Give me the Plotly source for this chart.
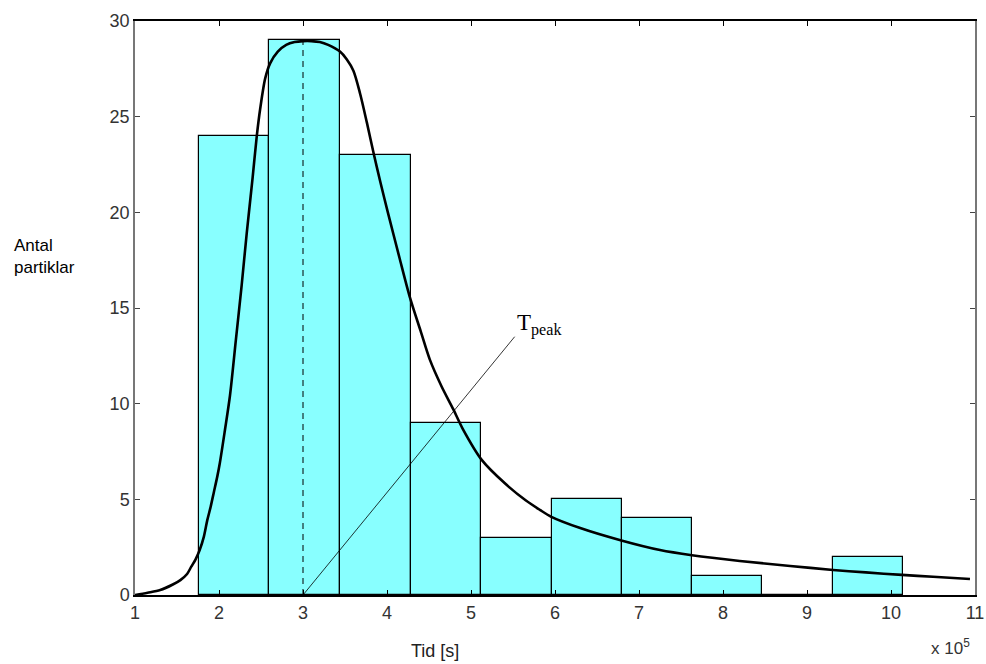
import plotly.graph_objects as go

# Histogram bins (time, x 10^5 s) and counts
bin_edges = [1.76, 2.60, 3.44, 4.28, 5.12, 5.96, 6.80, 7.63, 8.47, 9.31, 10.14]
counts = [24, 29, 23, 9, 3, 5, 4, 1, 0, 2]

curve_x = [1.0, 1.15, 1.3, 1.45, 1.54, 1.62, 1.67, 1.72, 1.77, 1.82, 1.86, 1.9, 1.94, 1.98, 2.01, 2.07,
           2.13, 2.2, 2.27, 2.33, 2.4, 2.45, 2.49, 2.55, 2.61, 2.7, 2.8, 2.9, 3.0, 3.1, 3.2, 3.3,
           3.44, 3.52, 3.6, 3.68, 3.76, 3.84, 3.92, 4.01, 4.15, 4.27, 4.4, 4.51, 4.65, 4.79,
           4.9, 5.13, 5.4, 5.65, 5.82, 5.95, 6.3, 6.79, 7.25, 7.63, 8.2, 8.8, 9.31, 9.7,
           10.13, 10.5, 10.94]
curve_y = [0.0, 0.12, 0.26, 0.55, 0.78, 1.1, 1.48, 1.85, 2.35, 3.05, 3.9, 4.6, 5.4, 6.2, 6.9, 8.6,
           10.4, 13.3, 16.2, 18.9, 21.8, 24.0, 25.4, 27.0, 27.8, 28.4, 28.75, 28.9, 28.95, 28.95, 28.9, 28.75,
           28.4, 28.0, 27.4, 26.2, 24.7, 23.1, 21.6, 20.0, 17.6, 15.6, 13.8, 12.3, 10.9, 9.7,
           8.7, 7.05, 5.85, 4.95, 4.45, 4.1, 3.5, 2.85, 2.35, 2.08, 1.78, 1.52, 1.31, 1.18,
           1.05, 0.95, 0.84]

peak_x = 3.0
peak_y = 28.95
label_end = [5.52, 13.5]
x_ticks = [1, 2, 3, 4, 5, 6, 7, 8, 9, 10, 11]
y_ticks = [0, 5, 10, 15, 20, 25, 30]

centers = [(a + b) / 2 for a, b in zip(bin_edges[:-1], bin_edges[1:])]
widths = [b - a for a, b in zip(bin_edges[:-1], bin_edges[1:])]

fig = go.Figure()
fig.add_trace(go.Bar(x=centers, y=counts, width=widths,
                     marker=dict(color="#88FFFF", line=dict(color="black", width=1.2)),
                     showlegend=False))
# dashed peak line
fig.add_trace(go.Scatter(x=[peak_x, peak_x], y=[0, peak_y], mode="lines",
                         line=dict(color="black", width=1, dash="6px,5px"), showlegend=False))
# Tpeak pointer
fig.add_trace(go.Scatter(x=[peak_x, label_end[0]], y=[0, label_end[1]], mode="lines",
                         line=dict(color="black", width=0.8), showlegend=False))
# fitted curve
fig.add_trace(go.Scatter(x=curve_x, y=curve_y, mode="lines",
                         line=dict(color="black", width=2.6, shape="spline", smoothing=0.8),
                         showlegend=False))

fig.add_annotation(x=label_end[0] + 0.0, y=label_end[1] - 0.2, xref="x", yref="y",
                   text="T<sub>peak</sub>", showarrow=False, xanchor="left", yanchor="bottom",
                   font=dict(family="Liberation Serif", size=23, color="black"))
fig.add_annotation(x=-0.147, y=0.59, xref="paper", yref="paper",
                   text="Antal<br>partiklar", showarrow=False, xanchor="left", yanchor="middle",
                   align="left", font=dict(family="Liberation Sans", size=17, color="black"))
fig.add_annotation(x=0.357, y=-0.097, xref="paper", yref="paper",
                   text="Tid [s]", showarrow=False, xanchor="center", yanchor="middle",
                   font=dict(family="Liberation Sans", size=18, color="#222"))
fig.add_annotation(x=0.997, y=-0.113, xref="paper", yref="paper",
                   text="x 10<sup>5</sup>", showarrow=False, xanchor="right", yanchor="bottom",
                   font=dict(family="Liberation Sans", size=17, color="#333"))

fig.update_layout(
    width=986, height=664,
    margin=dict(l=135, r=11, t=21, b=69),
    plot_bgcolor="white", paper_bgcolor="white",
    bargap=0,
    font=dict(family="Liberation Sans", size=18, color="#333"),
)
fig.update_xaxes(range=[1, 11], tickvals=x_ticks, ticks="inside", ticklen=5,
                 tickcolor="black", showline=True, linecolor="black", linewidth=2,
                 mirror="ticks", showgrid=False, zeroline=False, automargin=False,
                 tickfont=dict(size=18, color="#333"))
fig.update_yaxes(range=[0, 30], tickvals=y_ticks, ticks="inside", ticklen=5,
                 tickcolor="#444", showline=True, linecolor="#777", linewidth=1.5,
                 mirror="ticks", showgrid=False, zeroline=False, automargin=False,
                 tickfont=dict(size=18, color="#333"))

fig.write_html("out.html")
